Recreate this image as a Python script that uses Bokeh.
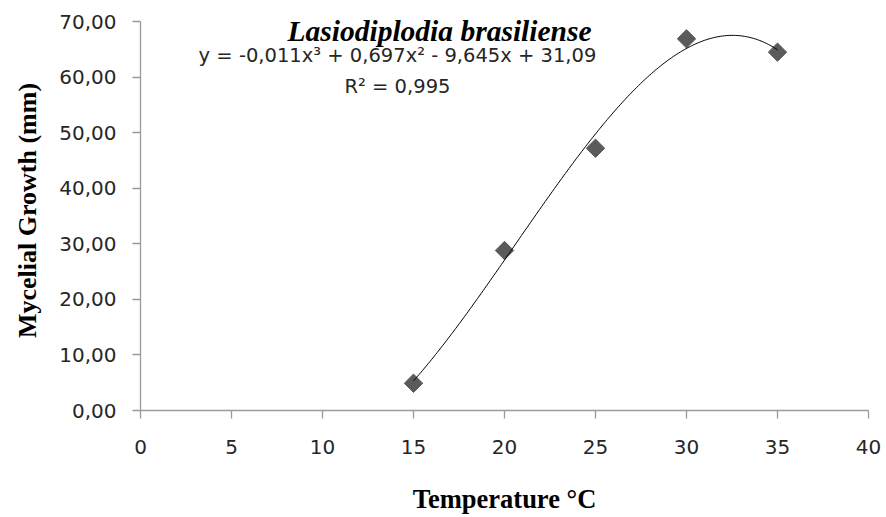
import numpy as np
from bokeh.plotting import figure
from bokeh.models import Range1d, FixedTicker, Label
from bokeh.embed import file_html
from bokeh.resources import INLINE

# Mycelial growth measured at each incubation temperature
temperature = [15, 20, 25, 30, 35]
growth = [4.9, 28.8, 47.2, 66.9, 64.5]

x_ticks = [0, 5, 10, 15, 20, 25, 30, 35, 40]
y_ticks = [0, 10, 20, 30, 40, 50, 60, 70]
y_tick_labels = ["0,00", "10,00", "20,00", "30,00", "40,00", "50,00", "60,00", "70,00"]

species = "Lasiodiplodia brasiliense"
equation = "y = -0,011x³ + 0,697x² - 9,645x + 31,09"
r_squared = "R² = 0,995"
x_title = "Temperature °C"
y_title = "Mycelial Growth (mm)"

AXIS_GRAY = "#9a9a9a"
TEXT = "#262626"
TICK_FONT = "DejaVu Sans"
SERIF = "Liberation Serif"

# a little headroom above 70 so the species name is not clipped;
# the axis itself stops at 70
p = figure(
    width=886, height=517,
    x_range=Range1d(0, 40), y_range=Range1d(0, 72),
    output_backend="svg", toolbar_location=None,
    min_border_left=140, min_border_right=18,
    min_border_top=10, min_border_bottom=107,
)
p.background_fill_color = "white"
p.border_fill_color = "white"
p.outline_line_color = None
p.xgrid.visible = False
p.ygrid.visible = False

for ax in (p.xaxis[0], p.yaxis[0]):
    ax.axis_line_color = AXIS_GRAY
    ax.axis_line_width = 1.3
    ax.major_tick_line_color = AXIS_GRAY
    ax.major_tick_line_width = 1.3
    ax.major_tick_in = 0
    ax.major_tick_out = 8
    ax.minor_tick_line_color = None
    ax.major_label_text_font = TICK_FONT
    ax.major_label_text_font_size = "20px"
    ax.major_label_text_color = TEXT
    ax.axis_label_text_font = SERIF
    ax.axis_label_text_font_style = "bold"
    ax.axis_label_text_color = "black"

xa = p.xaxis[0]
xa.ticker = FixedTicker(ticks=x_ticks)
xa.major_label_standoff = 21
xa.axis_label = x_title
xa.axis_label_text_font_size = "26.5px"
xa.axis_label_standoff = 27

ya = p.yaxis[0]
ya.bounds = (0, 70)
ya.ticker = FixedTicker(ticks=y_ticks)
ya.major_label_overrides = {t: s for t, s in zip(y_ticks, y_tick_labels)}
ya.major_label_standoff = 16
ya.axis_label = y_title
ya.axis_label_text_font_size = "26px"
ya.axis_label_standoff = 14

# observed points as grey diamonds
p.scatter(temperature, growth, marker="square", size=13, angle=np.pi / 4,
          fill_color="#5b5b5b", line_color="#5b5b5b")

# third-order polynomial trend line fitted to the observations
coeffs = np.polyfit(temperature, growth, 3)
xs = np.linspace(min(temperature), max(temperature), 200)
p.line(xs, np.polyval(coeffs, xs), line_color="black", line_width=1)

p.add_layout(Label(x=16.43, y=68.4, text=species, text_font=SERIF,
                   text_font_style="bold italic", text_font_size="29.5px",
                   text_color="black", text_align="center",
                   text_baseline="alphabetic"))
p.add_layout(Label(x=14.12, y=63.9, text=equation, text_font=TICK_FONT,
                   text_font_size="19.5px", text_color=TEXT,
                   text_align="center", text_baseline="alphabetic"))
p.add_layout(Label(x=14.12, y=58.3, text=r_squared, text_font=TICK_FONT,
                   text_font_size="19.5px", text_color=TEXT,
                   text_align="center", text_baseline="alphabetic"))

open("out.html", "w").write(file_html(p, INLINE))
